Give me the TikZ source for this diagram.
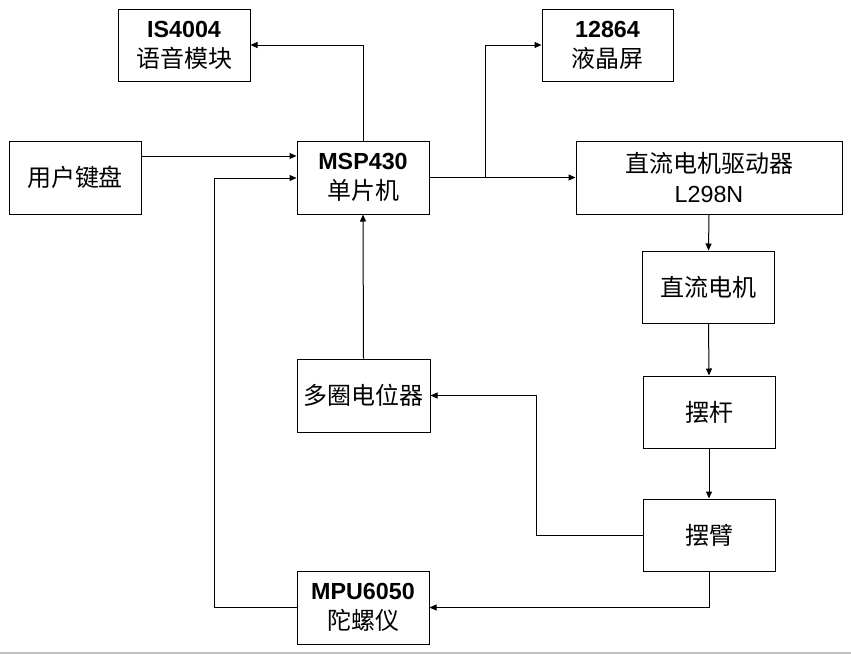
\documentclass[tikz,border=0pt]{standalone}
\usepackage{fontspec}
\setmainfont{Liberation Sans}
\newfontfamily\cjk{Noto Sans CJK SC}[Scale=1.03]
\usetikzlibrary{arrows.meta}
\tikzset{
  blk/.style={draw, line width=1pt, inner sep=0pt, minimum width=132pt, minimum height=72pt, align=center, font=\fontsize{23.3}{30}\selectfont},
  arr/.style={line width=1pt, -{Triangle[length=7pt,width=6pt]}}
}
\begin{document}
\begin{tikzpicture}[x=1pt,y=-1pt]
\useasboundingbox (0,0) rectangle (851,654);
\fill[white] (0,0) rectangle (851,654);
\fill[black!25] (0,651.5) rectangle (851,654);
\node[blk] (ivoice) at (184,45) {\textbf{IS4004}\\{\cjk 语音模块}};
\node[blk,minimum width=131pt] (lcd) at (607.5,45) {\textbf{12864}\\{\cjk 液晶屏}};
\node[blk,minimum height=73pt] (key) at (75,177.5) {{\cjk 用户键盘}};
\node[blk,minimum height=73pt] (mcu) at (363,177.5) {\textbf{MSP430}\\{\cjk 单片机}};
\node[blk,minimum width=266pt,minimum height=73pt] (drv) at (709,177.5) {{\cjk 直流电机驱动器}\\L298N};
\node[blk] (motor) at (708.5,287) {{\cjk 直流电机}};
\node[blk] (rod) at (709,412) {{\cjk 摆杆}};
\node[blk] (arm) at (709,535) {{\cjk 摆臂}};
\node[blk,minimum width=133pt,minimum height=73pt] (pot) at (363.5,395.5) {{\cjk 多圈电位器}};
\node[blk,minimum height=73pt] (mpu) at (363,607.5) {\textbf{MPU6050}\\{\cjk 陀螺仪}};
\coordinate (br) at (485,177.5);
\coordinate (fb) at (536,535);
\coordinate (lp) at (214,178);
\draw[arr] (mcu.north) |- (ivoice.east);
\draw[arr] (key.east |- 0,156) -- (mcu.west |- 0,156);
\draw[arr] (mcu.east) -- (drv.west);
\draw[arr] (br) |- (lcd.west);
\draw[arr] (drv.south) -- (motor.north);
\draw[arr] (motor.south) -- (rod.north);
\draw[arr] (rod.south) -- (arm.north);
\draw[arr] (arm.west) -- (fb) |- (pot.east);
\draw[arr] (pot.north) -- (mcu.south);
\draw[arr] (arm.south) |- (mpu.east);
\draw[arr] (mpu.west) -| (lp) -- (mcu.west |- lp);
\end{tikzpicture}
\end{document}
